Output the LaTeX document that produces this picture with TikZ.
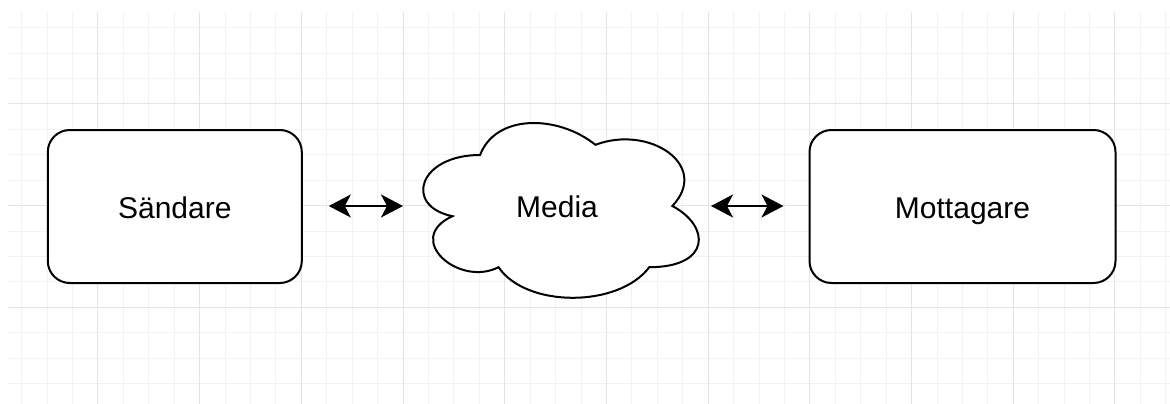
\documentclass[tikz,border=0pt]{standalone}
\usepackage{fontspec}
\setmainfont{Liberation Sans}
\usetikzlibrary{arrows.meta}
\begin{document}
\begin{tikzpicture}[x=1pt,y=-1pt,
  minorgrid/.style={draw=black!5, line width=1pt},
  majorgrid/.style={draw=black!10, line width=1pt},
  rbox/.style={draw=black, line width=2pt, rounded corners=22pt, fill=white,
    minimum height=153pt, inner sep=0pt, text height=26pt, text depth=3pt,
    font=\fontsize{30}{36}\selectfont},
  cloudshape/.style={draw=black, line width=2pt, fill=white},
  label/.style={inner sep=0pt, text height=26pt, text depth=3pt, font=\fontsize{30}{36}\selectfont},
  arr/.style={line width=2pt, {Stealth[length=22pt,width=23pt,inset=6pt]}-{Stealth[length=22pt,width=23pt,inset=6pt]}}
]
\useasboundingbox (0,0) rectangle (1170,404);
\fill[white] (0,0) rectangle (1170,404);
% grid
\foreach \i in {0,...,45} {
  \draw[minorgrid] ({21.7+25.425*\i},12) -- ({21.7+25.425*\i},404);
}
\foreach \j in {0,...,14} {
  \draw[minorgrid] (8,{27.7+25.425*\j}) -- (1170,{27.7+25.425*\j});
}
\foreach \i in {3,7,...,43} {
  \draw[majorgrid] ({21.7+25.425*\i},12) -- ({21.7+25.425*\i},404);
}
\foreach \j in {3,7,11} {
  \draw[majorgrid] (8,{27.7+25.425*\j}) -- (1170,{27.7+25.425*\j});
}
% cloud
\begin{scope}[shift={(403.2,104)}, x=307.6pt, y=-204pt]
  \draw[cloudshape] (0.25,0.25) .. controls (0.05,0.25) and (0,0.5) .. (0.16,0.55)
    .. controls (0,0.66) and (0.18,0.9) .. (0.31,0.8)
    .. controls (0.4,1) and (0.7,1) .. (0.8,0.8)
    .. controls (1,0.8) and (1,0.6) .. (0.875,0.5)
    .. controls (1,0.3) and (0.8,0.1) .. (0.625,0.2)
    .. controls (0.5,0.05) and (0.3,0.05) .. (0.25,0.25) -- cycle;
\end{scope}
\node[label, minimum width=307.6pt, minimum height=204pt] (media) at (557,206) {Media};
% boxes
\node[rbox, minimum width=254pt] (sand) at (174.8,206.5) {Sändare};
\node[rbox, minimum width=306pt] (mott) at (962.5,206.5) {Mottagare};
% arrows
\draw[arr, shorten <=26pt] (sand.east |- media.west) -- (media.west);
\draw[arr, shorten >=25pt] (media.east) -- (mott.west |- media.east);
\end{tikzpicture}
\end{document}
